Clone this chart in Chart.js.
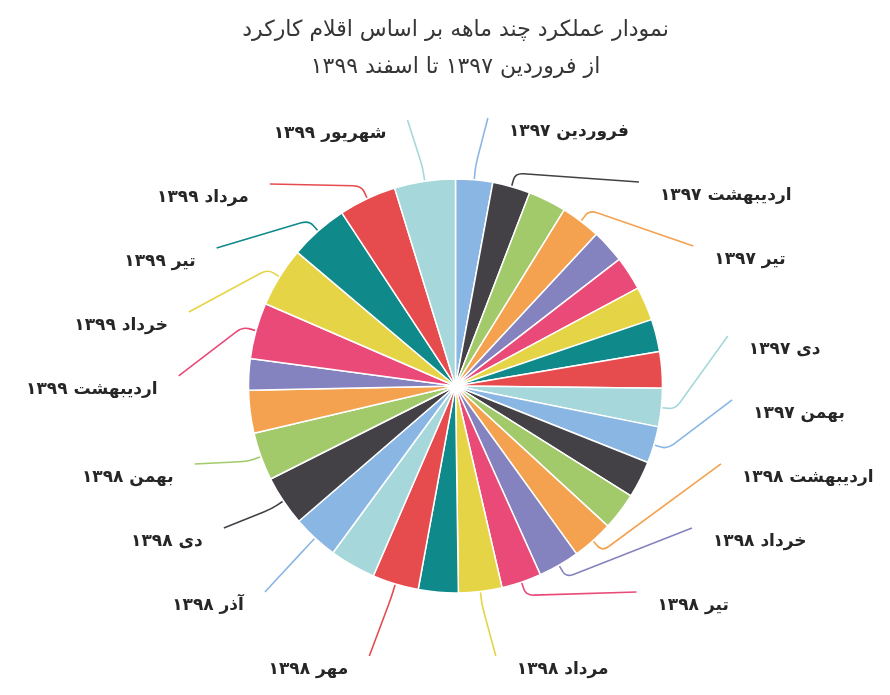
<!DOCTYPE html>
<html>
<head>
<meta charset="utf-8">
<script src="https://cdn.jsdelivr.net/npm/chart.js@4"></script>
<style>
  html, body { margin: 0; padding: 0; background: #fff; }
  #wrap { width: 890px; height: 695px; }
</style>
</head>
<body>
<div id="wrap"><canvas id="chart"></canvas></div>
<script>
const months = [
  'فروردین ۱۳۹۷', 'اردیبهشت ۱۳۹۷', 'خرداد ۱۳۹۷', 'تیر ۱۳۹۷', 'مرداد ۱۳۹۷', 'شهریور ۱۳۹۷',
  'مهر ۱۳۹۷', 'آبان ۱۳۹۷', 'آذر ۱۳۹۷', 'دی ۱۳۹۷', 'بهمن ۱۳۹۷', 'اسفند ۱۳۹۷',
  'فروردین ۱۳۹۸', 'اردیبهشت ۱۳۹۸', 'خرداد ۱۳۹۸', 'تیر ۱۳۹۸', 'مرداد ۱۳۹۸', 'شهریور ۱۳۹۸',
  'مهر ۱۳۹۸', 'آبان ۱۳۹۸', 'آذر ۱۳۹۸', 'دی ۱۳۹۸', 'بهمن ۱۳۹۸', 'اسفند ۱۳۹۸',
  'فروردین ۱۳۹۹', 'اردیبهشت ۱۳۹۹', 'خرداد ۱۳۹۹', 'تیر ۱۳۹۹', 'مرداد ۱۳۹۹', 'شهریور ۱۳۹۹'
];

const values = [
  10.4, 10.6, 10.7, 11.2, 9.4, 9.5, 9.5, 9.1, 10.2, 10.8, 10.3, 10.4,
  10.5, 11.6, 11.6, 11.2, 12.2, 11.2, 13.0, 12.9, 12.9, 14.1, 13.5, 12.0,
  8.8, 15.8, 16.8, 16.5, 16.2, 17.1
];

// months that get a label outside the pie
const labelled = [
  'فروردین ۱۳۹۷', 'اردیبهشت ۱۳۹۷', 'تیر ۱۳۹۷', 'دی ۱۳۹۷', 'بهمن ۱۳۹۷',
  'اردیبهشت ۱۳۹۸', 'خرداد ۱۳۹۸', 'تیر ۱۳۹۸', 'مرداد ۱۳۹۸', 'مهر ۱۳۹۸', 'آذر ۱۳۹۸',
  'دی ۱۳۹۸', 'بهمن ۱۳۹۸',
  'اردیبهشت ۱۳۹۹', 'خرداد ۱۳۹۹', 'تیر ۱۳۹۹', 'مرداد ۱۳۹۹', 'شهریور ۱۳۹۹'
];

const palette = [
  '#8ab6e3', '#434146', '#a2c96a', '#f4a24f', '#8583bf',
  '#e94a78', '#e6d447', '#10898a', '#e64b4e', '#a6d8db'
];

const titleLines = ['نمودار عملکرد چند ماهه بر اساس اقلام کارکرد', 'از فروردین ۱۳۹۷ تا اسفند ۱۳۹۹'];

const LABEL_FONT = 'bold 17px "DejaVu Sans"';
const LABEL_GAP = 64;
const LABEL_DIST = 62;
const LABEL_PAD = 8;

function layoutSide(items, top, bottom) {
  items.sort((a, b) => a.natY - b.natY);
  let prev = -Infinity;
  items.forEach((it) => {
    it.y = Math.max(it.natY, prev + LABEL_GAP, top);
    prev = it.y;
  });
  let next = Infinity;
  for (let k = items.length - 1; k >= 0; k--) {
    items[k].y = Math.min(items[k].y, next - LABEL_GAP, bottom);
    next = items[k].y;
  }
}

function roundedConnector(ctx, pts, rad) {
  const [a, b, c] = pts;
  const lenAB = Math.hypot(b.x - a.x, b.y - a.y);
  const lenBC = Math.hypot(c.x - b.x, c.y - b.y);
  const ra = Math.min(rad, lenAB / 2);
  const rc = Math.min(rad, lenBC / 2);
  const p1 = { x: b.x + (a.x - b.x) * ra / lenAB, y: b.y + (a.y - b.y) * ra / lenAB };
  const p2 = { x: b.x + (c.x - b.x) * rc / lenBC, y: b.y + (c.y - b.y) * rc / lenBC };
  ctx.beginPath();
  ctx.moveTo(a.x, a.y);
  ctx.lineTo(p1.x, p1.y);
  ctx.quadraticCurveTo(b.x, b.y, p2.x, p2.y);
  ctx.lineTo(c.x, c.y);
  ctx.stroke();
}

const outerLabels = {
  id: 'outerLabels',
  afterDatasetsDraw(chart) {
    const { ctx } = chart;
    const arcs = chart.getDatasetMeta(0).data;
    const cx = arcs[0].x;
    const cy = arcs[0].y;
    const r = arcs[0].outerRadius;
    const R = r + LABEL_DIST;
    const left = [];
    const right = [];

    arcs.forEach((arc, i) => {
      if (!labelled.includes(months[i])) return;
      const mid = (arc.startAngle + arc.endAngle) / 2;
      const item = {
        i,
        mid,
        side: Math.cos(mid) >= 0 ? 1 : -1,
        natX: cx + R * Math.cos(mid),
        natY: cy + R * Math.sin(mid)
      };
      (item.side > 0 ? right : left).push(item);
    });

    const top = cy - R + 1;
    const bottom = cy + R + 1;
    layoutSide(right, top, bottom);
    layoutSide(left, top, bottom);

    ctx.save();
    ctx.lineWidth = 1.6;
    ctx.font = LABEL_FONT;
    ctx.fillStyle = '#262626';
    ctx.textBaseline = 'middle';
    ctx.direction = 'rtl';

    [...right, ...left].forEach((it) => {
      let x;
      if (Math.abs(it.y - it.natY) < 20) {
        x = it.natX + it.side * LABEL_PAD;
      } else {
        const dy = it.y - cy;
        x = cx + it.side * (Math.sqrt(Math.max(R * R - dy * dy, 0)) + LABEL_PAD);
      }
      const edge = { x: cx + (r + 1) * Math.cos(it.mid), y: cy + (r + 1) * Math.sin(it.mid) };
      const bend = { x: cx + (r + 14) * Math.cos(it.mid), y: cy + (r + 14) * Math.sin(it.mid) };
      ctx.strokeStyle = palette[it.i % palette.length];
      roundedConnector(ctx, [{ x, y: it.y }, bend, edge], 8);

      ctx.textAlign = it.side > 0 ? 'left' : 'right';
      ctx.fillText(months[it.i], x + it.side * 21, it.y + 14);
    });
    ctx.restore();
  }
};

new Chart(document.getElementById('chart'), {
  type: 'pie',
  data: {
    labels: months,
    datasets: [
      {
        data: values,
        backgroundColor: months.map((m, i) => palette[i % palette.length]),
        borderColor: '#ffffff',
        borderWidth: 1.5,
        radius: 207
      }
    ]
  },
  options: {
    responsive: true,
    maintainAspectRatio: false,
    animation: false,
    layout: { padding: { left: 21, right: 0, top: 0, bottom: 9 } },
    plugins: {
      legend: { display: false },
      tooltip: { enabled: false },
      title: {
        display: true,
        text: titleLines,
        color: '#363636',
        font: { family: 'DejaVu Sans', size: 22, weight: 'normal', lineHeight: 1.68 },
        padding: { top: 12, bottom: 0 }
      }
    }
  },
  plugins: [outerLabels]
});
</script>
</body>
</html>
